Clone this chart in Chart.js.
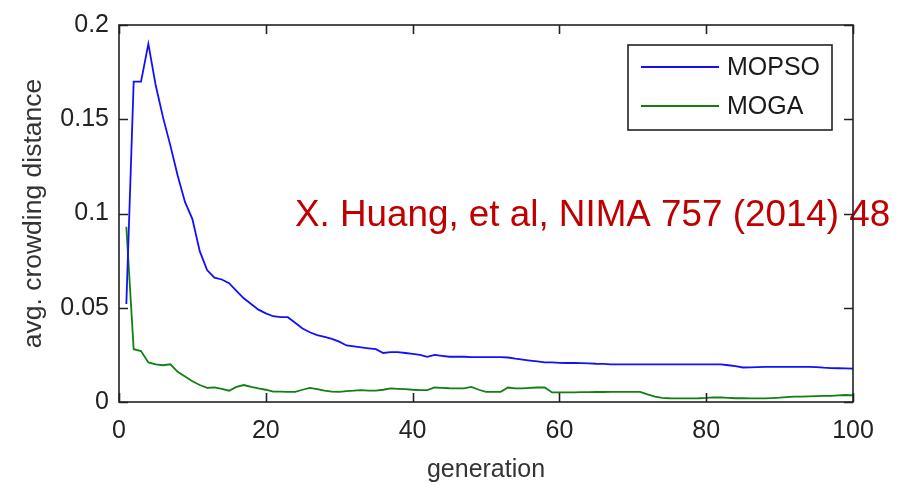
<!DOCTYPE html>
<html>
<head>
<meta charset="utf-8">
<script src="https://cdn.jsdelivr.net/npm/chart.js@4/dist/chart.umd.min.js"></script>
<style>
  html, body { margin: 0; padding: 0; background: #fff; }
  #wrap { width: 898px; height: 485px; }
</style>
</head>
<body>
<div id="wrap"><canvas id="ctx-crowding"></canvas></div>
<script>
const generations = [
  1, 2, 3, 4, 5, 6, 7, 8, 9, 10, 11, 12, 13, 14, 15, 16, 17, 18, 19, 20,
  21, 22, 23, 24, 25, 26, 27, 28, 29, 30, 31, 32, 33, 34, 35, 36, 37, 38, 39, 40,
  41, 42, 43, 44, 45, 46, 47, 48, 49, 50, 51, 52, 53, 54, 55, 56, 57, 58, 59, 60,
  61, 62, 63, 64, 65, 66, 67, 68, 69, 70, 71, 72, 73, 74, 75, 76, 77, 78, 79, 80,
  81, 82, 83, 84, 85, 86, 87, 88, 89, 90, 91, 92, 93, 94, 95, 96, 97, 98, 99, 100
];

const mopso = [
  0.052, 0.170, 0.170, 0.190, 0.168, 0.151, 0.136, 0.120, 0.106, 0.097,
  0.080, 0.070, 0.066, 0.065, 0.063, 0.059, 0.055, 0.052, 0.049, 0.047,
  0.0455, 0.045, 0.045, 0.042, 0.039, 0.037, 0.0355, 0.0345, 0.0335, 0.032,
  0.030, 0.0295, 0.029, 0.0285, 0.028, 0.026, 0.0265, 0.0265, 0.026, 0.0255,
  0.025, 0.024, 0.025, 0.0245, 0.024, 0.024, 0.024, 0.0238, 0.0238, 0.0238,
  0.0238, 0.0238, 0.0236, 0.023, 0.0225, 0.022, 0.0215, 0.021, 0.021, 0.0208,
  0.0207, 0.0207, 0.0206, 0.0205, 0.0203, 0.0202, 0.020, 0.020, 0.020, 0.020,
  0.020, 0.020, 0.020, 0.020, 0.020, 0.020, 0.020, 0.020, 0.020, 0.020,
  0.020, 0.020, 0.0195, 0.019, 0.0183, 0.0184, 0.0185, 0.0186, 0.0186, 0.0186,
  0.0186, 0.0186, 0.0186, 0.0186, 0.0185, 0.0182, 0.018, 0.0179, 0.0178, 0.0177
];

const moga = [
  0.093, 0.028, 0.027, 0.021, 0.020, 0.0195, 0.020, 0.016, 0.0135, 0.011,
  0.009, 0.0075, 0.0077, 0.007, 0.006, 0.008, 0.009, 0.008, 0.0072, 0.0065,
  0.0055, 0.0055, 0.0054, 0.0054, 0.0065, 0.0075, 0.0068, 0.006, 0.0055, 0.0054,
  0.0058, 0.006, 0.0063, 0.006, 0.006, 0.0065, 0.0072, 0.007, 0.0068, 0.0065,
  0.0063, 0.0063, 0.0077, 0.0075, 0.0073, 0.0072, 0.0072, 0.008, 0.0065, 0.0054,
  0.0054, 0.0054, 0.0077, 0.0072, 0.0072, 0.0075, 0.0077, 0.0077, 0.0051, 0.0051,
  0.0051, 0.0051, 0.0052, 0.0052, 0.0053, 0.0053, 0.0054, 0.0054, 0.0054, 0.0054,
  0.0054, 0.004, 0.0028, 0.0022, 0.002, 0.0019, 0.0019, 0.0019, 0.002, 0.0022,
  0.0025, 0.0024, 0.0022, 0.002, 0.002, 0.0019, 0.0019, 0.0019, 0.0021, 0.0023,
  0.0026, 0.0028, 0.0029, 0.003, 0.0031, 0.0032, 0.0033, 0.0035, 0.0037, 0.0035
];

const seriesNames = ['MOPSO', 'MOGA'];
const xTicks = [0, 20, 40, 60, 80, 100];
const yTicks = [0, 0.05, 0.1, 0.15, 0.2];
const yTickLabels = ['0', '0.05', '0.1', '0.15', '0.2'];
const xTitle = 'generation';
const yTitle = 'avg. crowding distance';
const citation = 'X. Huang, et al, NIMA 757 (2014) 48';

const colors = ['#1010ff', '#108010'];
const axisColor = '#222222';
const font = 'Arial, "Liberation Sans", sans-serif';

const toPoints = (vals) => vals.map((v, i) => ({ x: generations[i], y: v }));

// matlab style frame, inward ticks, boxed legend and the citation text
const matlabFrame = {
  id: 'matlabFrame',
  afterDatasetsDraw(chart) {
    const { ctx, chartArea: a, scales } = chart;
    const xs = scales.x, ys = scales.y;
    const tl = 9;

    // citation
    ctx.save();
    ctx.fillStyle = '#c00000';
    ctx.font = '36.8px ' + font;
    ctx.textBaseline = 'alphabetic';
    ctx.textAlign = 'left';
    ctx.fillText(citation, 295, 226);
    ctx.restore();

    ctx.save();
    ctx.strokeStyle = axisColor;
    ctx.lineWidth = 1.6;
    ctx.strokeRect(a.left, a.top, a.right - a.left, a.bottom - a.top);
    ctx.beginPath();
    xTicks.forEach((t) => {
      const px = Math.round(xs.getPixelForValue(t)) + 0.5;
      ctx.moveTo(px, a.bottom); ctx.lineTo(px, a.bottom - tl);
      ctx.moveTo(px, a.top); ctx.lineTo(px, a.top + tl);
    });
    yTicks.forEach((t) => {
      const py = Math.round(ys.getPixelForValue(t)) + 0.5;
      ctx.moveTo(a.left, py); ctx.lineTo(a.left + tl, py);
      ctx.moveTo(a.right, py); ctx.lineTo(a.right - tl, py);
    });
    ctx.stroke();

    // legend box
    const bw = 204, bh = 85;
    const bx = a.right - 21 - bw, by = a.top + 20;
    ctx.fillStyle = '#fff';
    ctx.fillRect(bx, by, bw, bh);
    ctx.lineWidth = 1.6;
    ctx.strokeRect(bx, by, bw, bh);
    ctx.font = '25px ' + font;
    ctx.textBaseline = 'middle';
    ctx.textAlign = 'left';
    seriesNames.forEach((name, i) => {
      const ly = by + 22 + i * 39;
      ctx.strokeStyle = colors[i];
      ctx.lineWidth = 1.8;
      ctx.beginPath();
      ctx.moveTo(bx + 13, ly); ctx.lineTo(bx + 91, ly);
      ctx.stroke();
      ctx.fillStyle = '#1a1a1a';
      ctx.fillText(name, bx + 99, ly + 1);
    });
    ctx.restore();
  }
};

const chart = new Chart(document.getElementById('ctx-crowding'), {
  type: 'line',
  data: {
    datasets: [
      { label: seriesNames[0], data: toPoints(mopso), borderColor: colors[0], borderWidth: 1.8, pointRadius: 0, tension: 0 },
      { label: seriesNames[1], data: toPoints(moga), borderColor: colors[1], borderWidth: 1.8, pointRadius: 0, tension: 0 }
    ]
  },
  options: {
    responsive: true,
    maintainAspectRatio: false,
    animation: false,
    layout: { padding: { top: 22, right: 45, left: 0, bottom: 0 } },
    plugins: { legend: { display: false }, tooltip: { enabled: false } },
    scales: {
      x: {
        type: 'linear', min: 0, max: 100,
        afterBuildTicks: (s) => { s.ticks = xTicks.map(v => ({ value: v })); },
        afterFit: (s) => { s.height = 83; },
        grid: { display: false, drawTicks: false },
        border: { display: false },
        ticks: { color: axisColor, font: { size: 25, family: font }, padding: 14 },
        title: { display: true, text: xTitle, color: '#333', font: { size: 25, family: font }, padding: { top: 0, bottom: 0 } }
      },
      y: {
        min: 0, max: 0.2,
        afterBuildTicks: (s) => { s.ticks = yTicks.map(v => ({ value: v })); },
        afterFit: (s) => { s.width = 119; },
        grid: { display: false, drawTicks: false },
        border: { display: false },
        ticks: {
          color: axisColor, font: { size: 25, family: font }, padding: 10,
          callback: (v) => yTickLabels[yTicks.indexOf(v)]
        },
        title: { display: true, text: yTitle, color: '#333', font: { size: 26.5, family: font }, padding: { top: 18, bottom: 0 } }
      }
    }
  },
  plugins: [matlabFrame]
});
</script>
</body>
</html>
